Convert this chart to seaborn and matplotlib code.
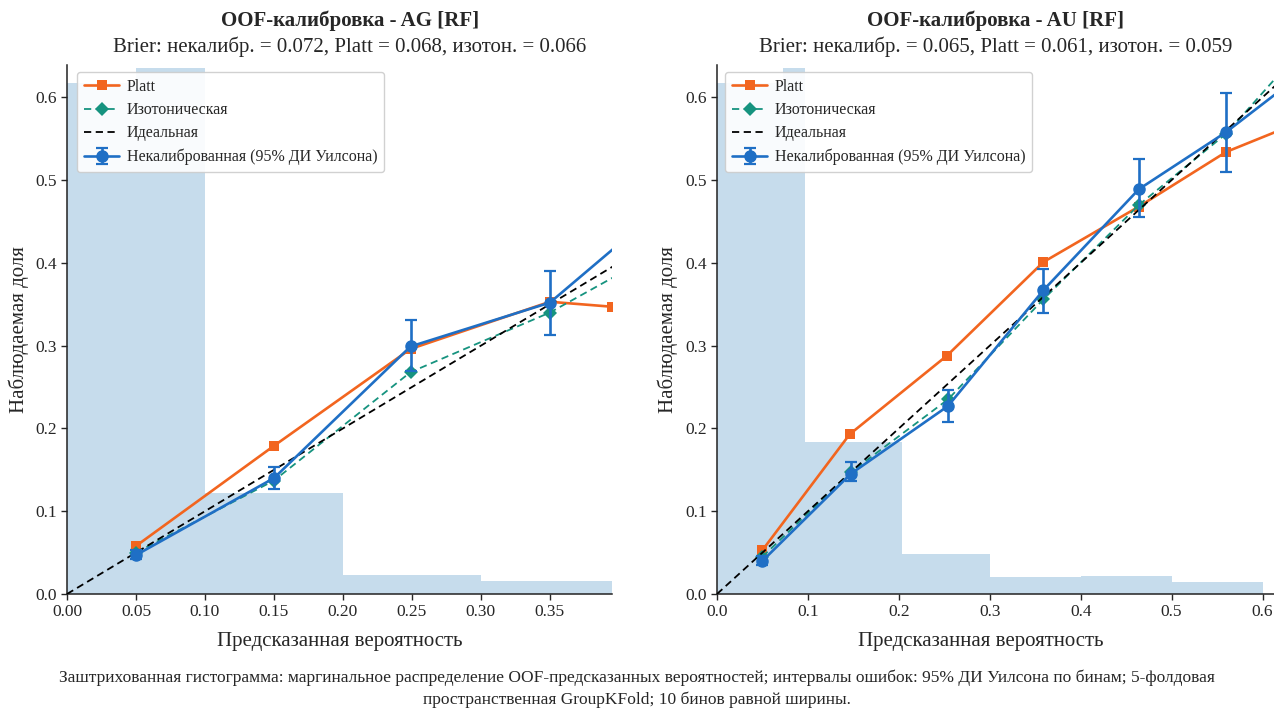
import matplotlib
matplotlib.use("Agg")
import matplotlib.pyplot as plt
import numpy as np
import pandas as pd
import seaborn as sns

# ---------------- AG [RF] ----------------
ag_unc_x = [0.050, 0.150, 0.249, 0.350, 0.430]
ag_unc_y = [0.047, 0.140, 0.299, 0.352, 0.465]
ag_unc_lo = [0.042, 0.127, 0.269, 0.313, 0.400]
ag_unc_hi = [0.053, 0.153, 0.331, 0.390, 0.530]
ag_platt_x = [0.050, 0.150, 0.249, 0.350, 0.395]
ag_platt_y = [0.058, 0.179, 0.296, 0.353, 0.347]
ag_iso_x = [0.050, 0.150, 0.249, 0.350, 0.430]
ag_iso_y = [0.050, 0.137, 0.268, 0.340, 0.414]
ag_hist_edges = [0.0, 0.05, 0.10, 0.20, 0.30, 0.40]
ag_hist_heights = [0.617, 0.635, 0.122, 0.023, 0.016]
ag_brier = [0.072, 0.068, 0.066]
ag_xticks = [0.00, 0.05, 0.10, 0.15, 0.20, 0.25, 0.30, 0.35]

# ---------------- AU [RF] ----------------
au_unc_x = [0.050, 0.147, 0.254, 0.359, 0.464, 0.560, 0.650]
au_unc_y = [0.040, 0.145, 0.227, 0.367, 0.489, 0.558, 0.634]
au_unc_lo = [0.035, 0.136, 0.208, 0.340, 0.455, 0.510, 0.580]
au_unc_hi = [0.046, 0.160, 0.247, 0.392, 0.525, 0.605, 0.690]
au_platt_x = [0.050, 0.146, 0.253, 0.359, 0.464, 0.560, 0.650]
au_platt_y = [0.053, 0.193, 0.288, 0.401, 0.468, 0.534, 0.574]
au_iso_x = [0.050, 0.147, 0.254, 0.359, 0.464, 0.560, 0.650]
au_iso_y = [0.045, 0.147, 0.235, 0.356, 0.470, 0.556, 0.667]
au_hist_edges = [0.0, 0.073, 0.097, 0.203, 0.30, 0.40, 0.50, 0.60]
au_hist_heights = [0.617, 0.635, 0.184, 0.048, 0.021, 0.022, 0.014]
au_brier = [0.065, 0.061, 0.059]
au_xticks = [0.0, 0.1, 0.2, 0.3, 0.4, 0.5, 0.6]

y_ticks = [0.0, 0.1, 0.2, 0.3, 0.4, 0.5, 0.6]

C_PLATT = "#f2651f"
C_ISO = "#16937f"
C_UNC = "#1f6fc5"
C_HIST = "#1f77b4"

sns.set_theme(style="ticks")
plt.rcParams["font.family"] = ["Liberation Serif", "DejaVu Serif"]
plt.rcParams["axes.edgecolor"] = "#222222"
plt.rcParams["axes.linewidth"] = 1.1

fig = plt.figure(figsize=(12.74, 7.11), dpi=100)
ax_l = fig.add_axes([67 / 1274, (711 - 594) / 711, (612 - 67) / 1274, (594 - 65) / 711])
ax_r = fig.add_axes([717 / 1274, (711 - 594) / 711, (1274 - 717) / 1274, (594 - 65) / 711])


def draw_panel(ax, name, unc_x, unc_y, lo, hi, px, py, ix, iy,
               edges, heights, brier, xticks, xlim, xfmt, title_x, xlabel_x,
               ylabel_x, leg_x):
    # marginal distribution of predictions
    ax.stairs(heights, edges, fill=True, color=C_HIST, alpha=0.25,
              linewidth=0, zorder=0)

    platt = pd.DataFrame({"x": px, "y": py})
    iso = pd.DataFrame({"x": ix, "y": iy})
    sns.lineplot(data=platt, x="x", y="y", ax=ax, color=C_PLATT, marker="s",
                 markersize=7.5, markeredgewidth=0, linewidth=1.9,
                 label="Platt", sort=False, zorder=3)
    sns.lineplot(data=iso, x="x", y="y", ax=ax, color=C_ISO, marker="D",
                 markersize=7.5, markeredgewidth=0, linewidth=1.3,
                 linestyle=(0, (4, 2.5)), label="Изотоническая", sort=False,
                 zorder=3)
    ax.plot([0, 1], [0, 1], color="black", linestyle=(0, (4, 2.5)),
            linewidth=1.3, label="Идеальная", zorder=4)
    unc_y = np.asarray(unc_y)
    yerr = np.vstack([unc_y - np.asarray(lo), np.asarray(hi) - unc_y])
    ax.errorbar(unc_x, unc_y, yerr=yerr, color=C_UNC, marker="o",
                markersize=8, linewidth=1.9, elinewidth=1.9, capsize=4,
                capthick=1.6, label="Некалиброванная (95% ДИ Уилсона)",
                zorder=5)

    ax.set_xlim(*xlim)
    ax.set_ylim(0, 0.639)
    ax.set_xticks(xticks)
    ax.set_xticklabels([xfmt.format(t) for t in xticks])
    ax.set_yticks(y_ticks)
    ax.set_yticklabels([f"{t:.1f}" for t in y_ticks])
    ax.tick_params(labelsize=12.5, length=4, width=1.0)
    ax.set_xlabel("Предсказанная вероятность", fontsize=15)
    ax.set_ylabel("Наблюдаемая доля", fontsize=15)
    ax.xaxis.set_label_coords(xlabel_x, -0.072)
    ax.yaxis.set_label_coords(ylabel_x, 0.5)
    sns.despine(ax=ax)

    ax.text(title_x, 1.084, f"OOF-калибровка - {name} [RF]",
            transform=ax.transAxes, ha="center", va="center",
            fontsize=15, fontweight="bold")
    ax.text(title_x, 1.034,
            f"Brier: некалибр. = {brier[0]:.3f}, Platt = {brier[1]:.3f}, "
            f"изотон. = {brier[2]:.3f}",
            transform=ax.transAxes, ha="center", va="center", fontsize=15)

    leg = ax.legend(loc="upper left", fontsize=11.5, frameon=True,
                    fancybox=True, borderpad=0.45, labelspacing=0.45,
                    handlelength=2.2, handletextpad=0.45, borderaxespad=0,
                    bbox_to_anchor=(leg_x, 0.987))
    leg.get_frame().set_edgecolor("#cccccc")
    leg.get_frame().set_alpha(0.9)


draw_panel(ax_l, "AG", ag_unc_x, ag_unc_y, ag_unc_lo, ag_unc_hi,
           ag_platt_x, ag_platt_y, ag_iso_x, ag_iso_y,
           ag_hist_edges, ag_hist_heights, ag_brier, ag_xticks,
           (0, 0.395), "{:.2f}", (350 - 67) / 545, 0.5,
           (29 - 67) / 545, 10 / 545)
draw_panel(ax_r, "AU", au_unc_x, au_unc_y, au_unc_lo, au_unc_hi,
           au_platt_x, au_platt_y, au_iso_x, au_iso_y,
           au_hist_edges, au_hist_heights, au_brier, au_xticks,
           (0, 0.6126), "{:.1f}", 0.5, (981 - 717) / 557,
           (678 - 717) / 557, 8 / 557)

fig.text(0.5, 1 - 688.5 / 711,
         "Заштрихованная гистограмма: маргинальное распределение "
         "OOF-предсказанных вероятностей; интервалы ошибок: 95% ДИ Уилсона "
         "по бинам; 5-фолдовая\nпространственная GroupKFold; 10 бинов равной "
         "ширины.",
         ha="center", va="center", fontsize=12.5, linespacing=1.4)

fig.savefig("out.png", dpi=100, facecolor="white")
